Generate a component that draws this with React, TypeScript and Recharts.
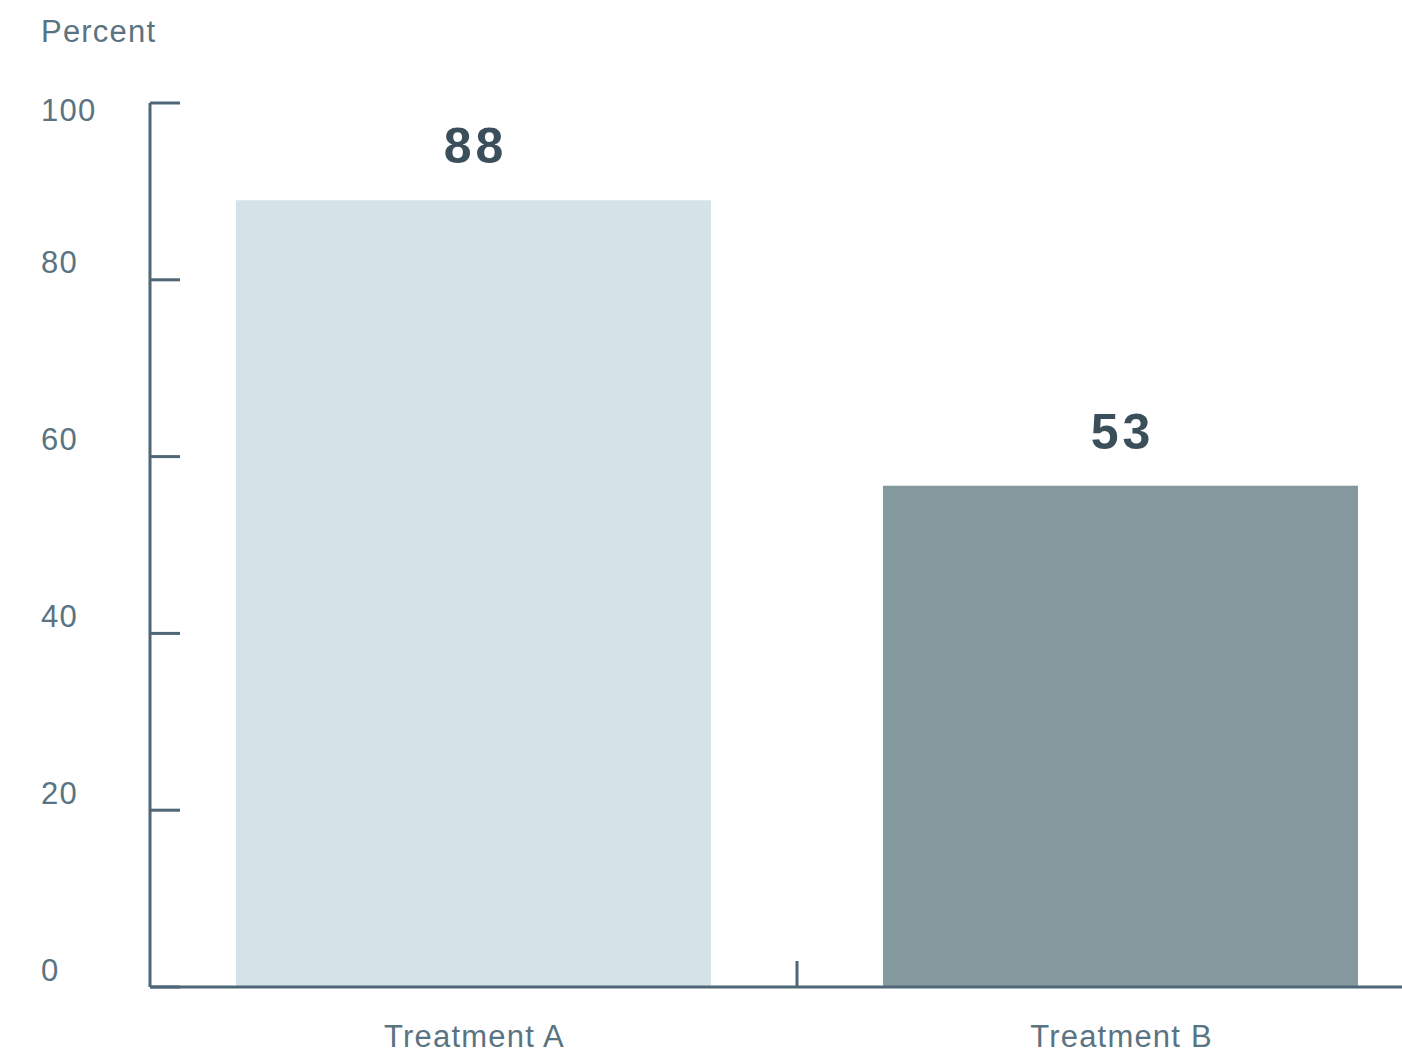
import React from "react";
import { BarChart, Bar, Cell, XAxis, YAxis, LabelList } from "recharts";

const categories = ["Treatment A", "Treatment B"];
// bar heights as drawn in the picture, printed labels as written on it
const barHeights = [89, 56.7];
const barLabels = ["88", "53"];
const barColors = ["#d4e3e8", "#84999e"];
const yTicks = [0, 20, 40, 60, 80, 100];

const data = categories.map((name, i) => ({
  name,
  value: barHeights[i],
  label: barLabels[i],
}));

const FONT = '"Liberation Sans", Arial, sans-serif';
const AXIS = "#4e6676";
const TEXT = "#5a7382";

function YTick(props: any) {
  const { x, y, payload } = props;
  // top label sits lower than the rest in the original
  const dy = payload.value === 100 ? 7 : -17;
  return (
    <g>
      <line x1={x} y1={y} x2={x + 30} y2={y} stroke={AXIS} strokeWidth={3} />
      <text
        x={x - 109}
        y={y + dy}
        fill={TEXT}
        fontSize={31}
        letterSpacing={1.2}
        fontFamily={FONT}
        dominantBaseline="central"
      >
        {payload.value}
      </text>
    </g>
  );
}

function XTick(props: any) {
  const { x, y, payload, index } = props;
  const half = payload.offset ?? 323;
  return (
    <g>
      {index === 0 && (
        <line
          x1={x + half}
          y1={y - 26}
          x2={x + half}
          y2={y}
          stroke={AXIS}
          strokeWidth={3}
        />
      )}
      <text
        x={x + 1}
        y={y + 49}
        fill={TEXT}
        fontSize={31}
        letterSpacing={1.2}
        fontFamily={FONT}
        textAnchor="middle"
        dominantBaseline="central"
      >
        {payload.value}
      </text>
    </g>
  );
}

function BarLabel(props: any) {
  const { x, y, width, value } = props;
  return (
    <text
      x={x + width / 2 + 2}
      y={y - 54}
      fill="#3b4f5b"
      fontSize={50}
      fontWeight="bold"
      letterSpacing={4}
      fontFamily={FONT}
      textAnchor="middle"
      dominantBaseline="central"
    >
      {value}
    </text>
  );
}

export default function App() {
  return (
    <div
      style={{
        position: "fixed",
        left: 0,
        top: 0,
        width: 1402,
        height: 1054,
        overflow: "hidden",
        background: "#fff",
        fontFamily: FONT,
      }}
    >
      <div
        style={{
          position: "absolute",
          left: 41,
          top: 32,
          transform: "translateY(-50%)",
          fontSize: 31,
          letterSpacing: 1.2,
          color: TEXT,
        }}
      >
        Percent
      </div>
      <BarChart
        width={1500}
        height={1054}
        data={data}
        margin={{ top: 103, right: 56, bottom: 0, left: 0 }}
      >
        <XAxis
          dataKey="name"
          height={67}
          axisLine={{ stroke: AXIS, strokeWidth: 3 }}
          tickLine={false}
          tickSize={0}
          tickMargin={0}
          tick={<XTick />}
          interval={0}
        />
        <YAxis
          width={150}
          domain={[0, 100]}
          ticks={yTicks}
          axisLine={{ stroke: AXIS, strokeWidth: 3 }}
          tickLine={false}
          tickSize={0}
          tickMargin={0}
          tick={<YTick />}
        />
        <Bar dataKey="value" barSize={475} isAnimationActive={false}>
          {data.map((d, i) => (
            <Cell key={d.name} fill={barColors[i]} />
          ))}
          <LabelList dataKey="label" content={<BarLabel />} />
        </Bar>
      </BarChart>
    </div>
  );
}
